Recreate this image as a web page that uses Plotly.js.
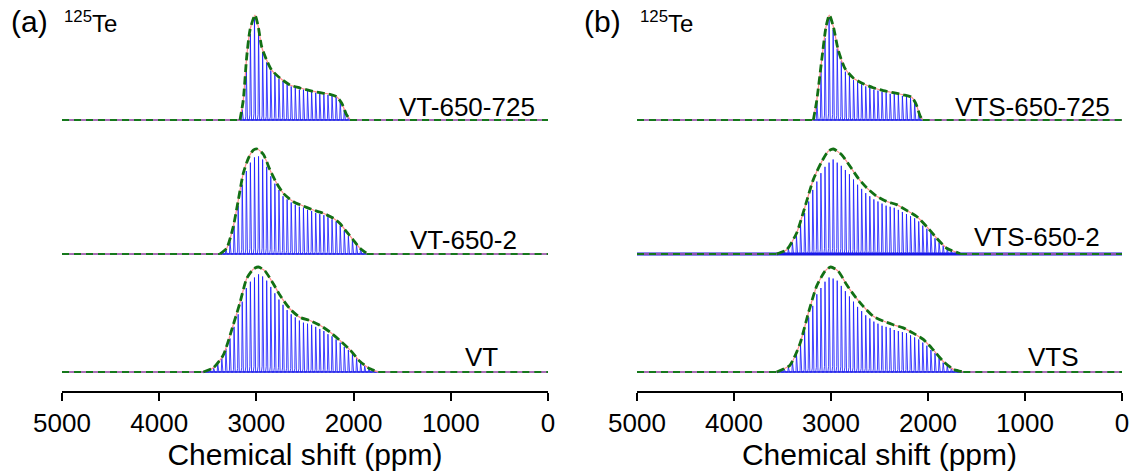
<!DOCTYPE html>
<html><head><meta charset="utf-8">
<script src="https://cdn.plot.ly/plotly-3.0.1.min.js"></script>
<style>html,body{margin:0;padding:0;background:#fff}#plot{width:1134px;height:471px}</style>
</head><body><div id="plot"></div>
<script>
// ---- data ----
const xTicks = [5000, 4000, 3000, 2000, 1000, 0];
const xTitle = 'Chemical shift (ppm)';
const spikeletPpm = [3608,3566,3524,3482,3440,3398,3356,3314,3272,3230,3188,3146,3104,3062,3020,2978,2936,2894,2852,2810,2768,2726,2684,2642,2600,2558,2516,2474,2432,2390,2348,2306,2264,2222,2180,2138,2096,2054,2012,1970,1928,1886,1844,1802,1760,1718,1676,1634];

const vt725Spikes  = [0,0,0,0,0,0,0,0,0,0,0,0.10,0.50,0.82,0.98,0.85,0.64,0.55,0.47,0.43,0.39,0.37,0.34,0.32,0.31,0.29,0.29,0.28,0.27,0.26,0.25,0.245,0.24,0.23,0.22,0.18,0.10,0.03,0,0,0,0,0,0,0,0,0,0];
const vt6502Spikes = [0,0,0,0,0,0,0.02,0.05,0.12,0.27,0.46,0.66,0.79,0.87,0.92,0.93,0.90,0.83,0.74,0.67,0.61,0.55,0.52,0.49,0.47,0.45,0.44,0.42,0.41,0.39,0.38,0.37,0.35,0.33,0.31,0.27,0.22,0.17,0.13,0.09,0.05,0.02,0,0,0,0,0,0];
const vtSpikes     = [0,0,0.01,0.02,0.04,0.08,0.13,0.22,0.32,0.43,0.55,0.67,0.80,0.86,0.90,0.93,0.91,0.87,0.81,0.75,0.69,0.64,0.59,0.55,0.52,0.49,0.47,0.46,0.45,0.43,0.41,0.39,0.36,0.34,0.31,0.28,0.24,0.21,0.17,0.13,0.09,0.06,0.04,0.02,0.01,0,0,0];
const vts725Spikes = [0,0,0,0,0,0,0,0,0,0,0,0.17,0.48,0.78,0.97,0.86,0.68,0.56,0.46,0.42,0.38,0.36,0.34,0.32,0.31,0.29,0.28,0.27,0.26,0.25,0.25,0.24,0.23,0.22,0.21,0.17,0.08,0.01,0,0,0,0,0,0,0,0,0,0];
const vts6502Spikes= [0,0,0.01,0.03,0.05,0.11,0.17,0.28,0.39,0.50,0.61,0.69,0.77,0.83,0.87,0.90,0.87,0.84,0.80,0.76,0.71,0.66,0.62,0.58,0.55,0.52,0.50,0.48,0.46,0.45,0.44,0.42,0.40,0.38,0.36,0.34,0.31,0.27,0.24,0.20,0.15,0.11,0.08,0.05,0.03,0.02,0.01,0];
const vtsSpikes    = [0,0,0.02,0.03,0.05,0.10,0.17,0.26,0.39,0.52,0.63,0.74,0.80,0.86,0.90,0.89,0.87,0.82,0.77,0.72,0.67,0.62,0.58,0.54,0.51,0.48,0.46,0.44,0.43,0.42,0.40,0.39,0.38,0.37,0.35,0.33,0.31,0.28,0.25,0.21,0.18,0.14,0.09,0.06,0.04,0.02,0.01,0];

const vt725EnvPpm  = [3169,3135,3100,3066,3015,2981,2946,2895,2843,2758,2655,2552,2449,2346,2243,2174,2123,2071,2037];
const vt725EnvInt  = [0,0.19,0.60,0.857,1.0,0.889,0.698,0.571,0.476,0.40,0.333,0.305,0.28,0.26,0.245,0.222,0.162,0.048,0.007];
const vt6502EnvPpm = [3374,3306,3238,3186,3135,3083,3032,2991,2929,2860,2791,2723,2620,2517,2415,2312,2209,2140,2071,2003,1934,1866];
const vt6502EnvInt = [0,0.054,0.26,0.514,0.769,0.911,0.99,1.0,0.95,0.80,0.673,0.578,0.498,0.457,0.419,0.388,0.34,0.29,0.21,0.133,0.054,0.007];
const vtEnvPpm     = [3546,3443,3341,3238,3169,3100,3032,2980,2914,2826,2757,2654,2552,2449,2346,2243,2140,2037,1934,1831,1746];
const vtEnvInt     = [0,0.04,0.16,0.45,0.66,0.89,0.98,1.0,0.965,0.84,0.73,0.60,0.52,0.49,0.445,0.38,0.30,0.21,0.10,0.03,0];
const vts725EnvPpm = [3182,3147,3096,3051,3017,2976,2925,2856,2770,2667,2564,2461,2358,2255,2168,2124,2082,2055];
const vts725EnvInt = [0,0.185,0.57,0.89,1.0,0.89,0.665,0.49,0.40,0.345,0.307,0.28,0.26,0.24,0.217,0.154,0.04,0];
const vts6502EnvPpm= [3560,3457,3354,3268,3182,3096,3028,2976,2890,2804,2718,2632,2529,2426,2323,2220,2116,2013,1910,1807,1670];
const vts6502EnvInt= [0,0.04,0.2,0.45,0.71,0.88,0.98,1.0,0.945,0.835,0.72,0.63,0.55,0.50,0.47,0.415,0.357,0.26,0.15,0.055,0.005];
const vtsEnvPpm    = [3560,3423,3320,3234,3147,3062,3003,2925,2838,2753,2667,2564,2461,2358,2255,2152,2048,1945,1842,1739,1636];
const vtsEnvInt    = [0,0.065,0.27,0.56,0.82,0.96,1.0,0.96,0.83,0.72,0.625,0.53,0.485,0.45,0.42,0.37,0.31,0.21,0.10,0.025,0];

const sampleNames = ['VT-650-725','VT-650-2','VT','VTS-650-725','VTS-650-2','VTS'];
const offsets = [2.581, 1.305, 0.181];

// ---- build ----
const spectra = [
  {name: sampleNames[0], spikes: vt725Spikes,  ep: vt725EnvPpm,  ei: vt725EnvInt,  panel: 0, row: 0},
  {name: sampleNames[1], spikes: vt6502Spikes, ep: vt6502EnvPpm, ei: vt6502EnvInt, panel: 0, row: 1},
  {name: sampleNames[2], spikes: vtSpikes,     ep: vtEnvPpm,     ei: vtEnvInt,     panel: 0, row: 2},
  {name: sampleNames[3], spikes: vts725Spikes, ep: vts725EnvPpm, ei: vts725EnvInt, panel: 1, row: 0},
  {name: sampleNames[4], spikes: vts6502Spikes,ep: vts6502EnvPpm,ei: vts6502EnvInt,panel: 1, row: 1},
  {name: sampleNames[5], spikes: vtsSpikes,    ep: vtsEnvPpm,    ei: vtsEnvInt,    panel: 1, row: 2},
];

const xMax = xTicks[0], xMin = xTicks[xTicks.length - 1];
const traces = [];
spectra.forEach(s => {
  const off = offsets[s.row];
  const xa = s.panel === 0 ? 'x' : 'x2';
  const ya = s.panel === 0 ? 'y' : 'y2';
  const noisy = s.row === 1 && s.panel === 1;
  // baseline
  traces.push({x: [xMax, xMin], y: [off, off], xaxis: xa, yaxis: ya, mode: 'lines', hoverinfo: 'skip',
    line: {color: '#1a1ad8', width: noisy ? 3.2 : 1.6}});
  // spikelets
  const sx = [], sy = [];
  spikeletPpm.forEach((p, i) => {
    const h = s.spikes[i];
    if (h <= 0) return;
    sx.push(p + 12, p + 5, p, p - 5, p - 12);
    sy.push(off, off + 0.06 * h, off + h, off + 0.06 * h, off);
  });
  traces.push({x: sx, y: sy, xaxis: xa, yaxis: ya, mode: 'lines', hoverinfo: 'skip',
    line: {color: 'rgba(25,25,255,0.82)', width: 1}});
  // fit line (salmon) and dashed green envelope
  const ey = s.ei.map(v => off + v);
  const lo = s.ep[0], hi = s.ep[s.ep.length - 1];
  traces.push({x: [xMax, lo], y: [off, off], xaxis: xa, yaxis: ya, mode: 'lines', hoverinfo: 'skip',
    line: {color: '#ff8a8a', width: 1}});
  traces.push({x: [hi, xMin], y: [off, off], xaxis: xa, yaxis: ya, mode: 'lines', hoverinfo: 'skip',
    line: {color: '#ff8a8a', width: 1}});
  traces.push({x: s.ep, y: ey, xaxis: xa, yaxis: ya, mode: 'lines', hoverinfo: 'skip',
    line: {color: '#ff8a8a', width: 1.2, shape: 'spline', smoothing: 0.6}});
  traces.push({x: [xMax, lo], y: [off, off], xaxis: xa, yaxis: ya, mode: 'lines', hoverinfo: 'skip',
    line: {color: '#16781c', width: 2.2, dash: '7px,5px'}});
  traces.push({x: [hi, xMin], y: [off, off], xaxis: xa, yaxis: ya, mode: 'lines', hoverinfo: 'skip',
    line: {color: '#16781c', width: 2.2, dash: '7px,5px'}});
  traces.push({x: s.ep, y: ey, xaxis: xa, yaxis: ya, mode: 'lines', hoverinfo: 'skip',
    line: {color: '#127014', width: 2.8, dash: '8px,4px', shape: 'spline', smoothing: 0.6}});
});

const W = 1134;
const font = 'Arial, "Liberation Sans", sans-serif';
const axisCommon = {
  range: [xMax, xMin], tickmode: 'array', tickvals: xTicks, ticktext: xTicks.map(String),
  ticks: 'outside', ticklen: 8, tickwidth: 2, tickcolor: '#000',
  showline: true, linewidth: 2, linecolor: '#000', showgrid: false, zeroline: false,
  tickfont: {size: 26, color: '#000', family: font},
  title: {text: xTitle, font: {size: 30, color: '#000', family: font}, standoff: 8},
  fixedrange: true
};
const yCommon = {range: [0, 3.724], visible: false, fixedrange: true};

const labelPos = [
  {x: 113, y: 2.705}, {x: 298, y: 1.438}, {x: 494, y: 0.324},
  {x: 103, y: 2.705}, {x: 209, y: 1.467}, {x: 423, y: 0.324}
];
const annotations = spectra.map((s, i) => ({
  text: s.name, x: labelPos[i].x, y: labelPos[i].y,
  xref: s.panel === 0 ? 'x' : 'x2', yref: s.panel === 0 ? 'y' : 'y2',
  xanchor: 'right', yanchor: 'middle', showarrow: false,
  font: {size: 26, color: '#000', family: font}
}));
annotations.push(
  {text: '(a)', x: 9/W, y: 0.946, xref: 'paper', yref: 'paper', xanchor: 'left', yanchor: 'middle', showarrow: false, font: {size: 30, color: '#000', family: font}},
  {text: '<sup>125</sup>Te', x: 62/W, y: 0.944, xref: 'paper', yref: 'paper', xanchor: 'left', yanchor: 'middle', showarrow: false, font: {size: 24, color: '#000', family: font}},
  {text: '(b)', x: 582/W, y: 0.946, xref: 'paper', yref: 'paper', xanchor: 'left', yanchor: 'middle', showarrow: false, font: {size: 30, color: '#000', family: font}},
  {text: '<sup>125</sup>Te', x: 638/W, y: 0.944, xref: 'paper', yref: 'paper', xanchor: 'left', yanchor: 'middle', showarrow: false, font: {size: 24, color: '#000', family: font}}
);

const layout = {
  width: 1134, height: 471,
  margin: {l: 0, r: 0, t: 0, b: 80},
  paper_bgcolor: '#fff', plot_bgcolor: '#fff',
  showlegend: false,
  xaxis: Object.assign({}, axisCommon, {domain: [62/W, 548/W], anchor: 'y'}),
  yaxis: Object.assign({}, yCommon, {domain: [0, 1], anchor: 'x'}),
  xaxis2: Object.assign({}, axisCommon, {domain: [637/W, 1122/W], anchor: 'y2'}),
  yaxis2: Object.assign({}, yCommon, {domain: [0, 1], anchor: 'x2'}),
  annotations: annotations
};
Plotly.newPlot('plot', traces, layout, {displayModeBar: false, staticPlot: true});
</script></body></html>
